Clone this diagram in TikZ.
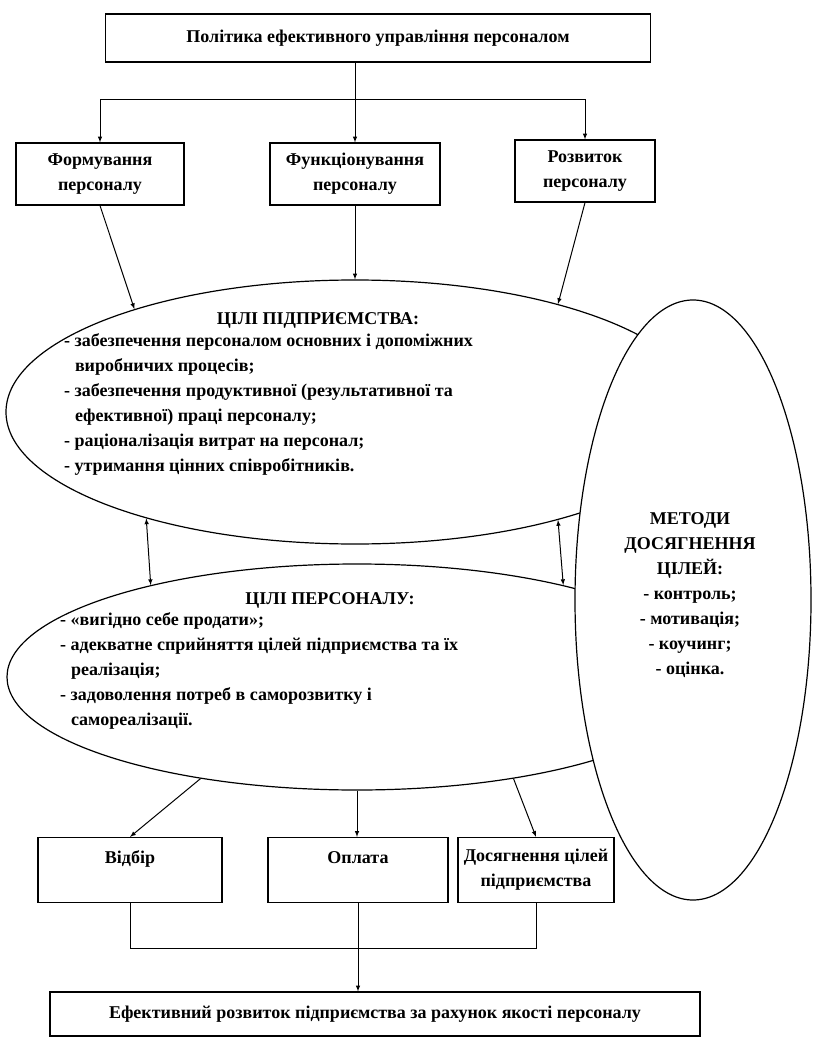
\documentclass[tikz,border=0pt]{standalone}
\usepackage{fontspec}
\setmainfont{Liberation Serif}
\usepackage{tikz}
\usetikzlibrary{shapes.geometric}

\tikzset{
  box/.style={draw, line width=1.2pt, align=center, inner sep=0pt},
  oval/.style={draw, line width=1.2pt, ellipse, inner sep=0pt},
  txt/.style={align=left, inner sep=0pt},
  link/.style={line width=1pt, ->, >=latex},
}

\begin{document}
\begin{tikzpicture}[x=1pt, y=-1pt, font=\fontsize{18}{25}\selectfont\bfseries]
  \useasboundingbox[fill=white] (0,0) rectangle (815,1040);

  % policy and its three directions
  \node[box, minimum width=545, minimum height=48] (policy) at (378,38) {Політика ефективного управління персоналом};
  \node[box, minimum width=168, minimum height=62] (form) at (100,174) {Формування\\персоналу};
  \node[box, minimum width=170, minimum height=62] (func) at (355,174) {Функціонування\\персоналу};
  \node[box, minimum width=140, minimum height=62] (dev) at (585,171) {Розвиток\\персоналу};

  \coordinate (hub) at (355,100);
  \draw[line width=1pt] (policy.south -| hub) -- (hub);
  \draw[link] (hub) -| (form.north);
  \draw[link] (hub) -- (func.north);
  \draw[link] (hub) -| (dev.north);

  % goals of the enterprise
  \node[oval, minimum width=698, minimum height=264] (goalsF) at (355,412) {};
  \node (goalsFtitle) at (318,320) {ЦІЛІ ПІДПРИЄМСТВА:};
  \node[txt, anchor=north west] (goalsFlist) at (64,333) {- забезпечення персоналом основних і допоміжних\\
    \hspace*{0.6em}виробничих процесів;\\
    - забезпечення продуктивної (результативної та\\
    \hspace*{0.6em}ефективної) праці персоналу;\\
    - раціоналізація витрат на персонал;\\
    - утримання цінних співробітників.};

  \draw[link] (form.south) -- (goalsF.155.8);
  \draw[link] (func.south) -- (goalsF.north);
  \draw[link] (dev.south) -- (goalsF.28);

  % goals of the staff
  \node[oval, minimum width=700, minimum height=226] (goalsP) at (357,677) {};
  \node (goalsPtitle) at (330,600) {ЦІЛІ ПЕРСОНАЛУ:};
  \node[txt, anchor=north west] (goalsPlist) at (60,612) {- «вигідно себе продати»;\\
    - адекватне сприйняття цілей підприємства та їх\\
    \hspace*{0.6em}реалізація;\\
    - задоволення потреб в саморозвитку і\\
    \hspace*{0.6em}самореалізації.};

  \draw[link, <->] (goalsF.207.2) -- (goalsP.156.6);
  \draw[link, <->] (goalsF.332.6) -- (goalsP.24.2);

  % methods
  \node[oval, fill=white, minimum width=236, minimum height=600] (methods) at (693,600) {};
  \node[align=center] (methodsTxt) at (690,595) {МЕТОДИ\\ДОСЯГНЕННЯ\\ЦІЛЕЙ:\\- контроль;\\- мотивація;\\- коучинг;\\- оцінка.};

  % results
  \node[box, minimum width=184, minimum height=65] (pick) at (130,870) {Відбір\\~};
  \node[box, minimum width=180, minimum height=65] (pay) at (358,870) {Оплата\\~};
  \node[box, minimum width=156, minimum height=65] (reach) at (536,870) {Досягнення цілей\\підприємства};
  \node[box, minimum width=650, minimum height=44] (result) at (375,1014) {Ефективний розвиток підприємства за рахунок якості персоналу};

  \draw[link] (goalsP.213.8) -- (pick.north);
  \draw[link] (goalsP.south) -- (goalsP.south |- pay.north);
  \draw[link] (goalsP.-33.8) -- (reach.north);

  \coordinate (join) at (358,948);
  \draw[line width=1pt] (pick.south) |- (join) -| (reach.south);
  \draw[link] (pay.south) -- (pay.south |- result.north);
\end{tikzpicture}
\end{document}
